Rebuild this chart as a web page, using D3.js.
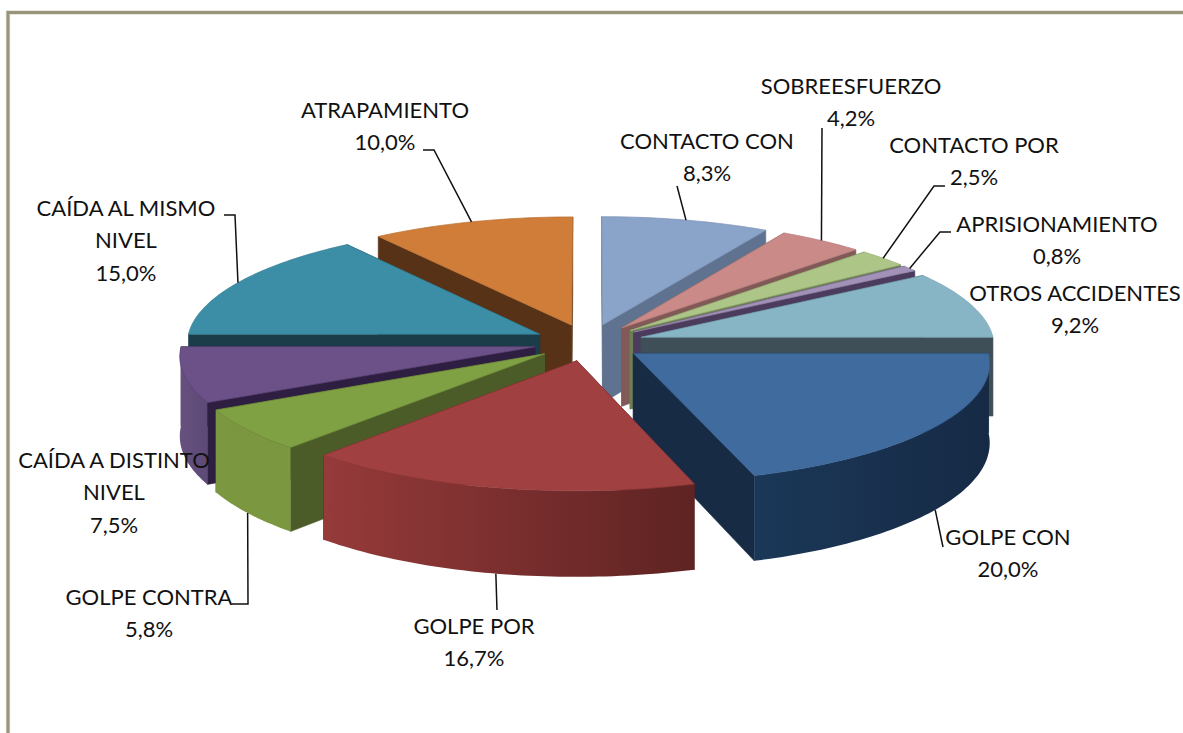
<!DOCTYPE html>
<html><head><meta charset="utf-8">
<script src="https://cdn.jsdelivr.net/npm/d3@7"></script>
<style>html,body{margin:0;padding:0;background:#fff;overflow:hidden}svg{display:block}text{font-family:Lato,sans-serif;font-size:22px;fill:#111}</style>
</head><body><script>
const categories=["CONTACTO CON","SOBREESFUERZO","CONTACTO POR","APRISIONAMIENTO","OTROS ACCIDENTES","GOLPE CON","GOLPE POR","GOLPE CONTRA","CAÍDA A DISTINTO NIVEL","CAÍDA AL MISMO NIVEL","ATRAPAMIENTO"];
const values=[8.3,4.2,2.5,0.8,9.2,20.0,16.7,5.8,7.5,15.0,10.0];
const labelLines=[["CONTACTO CON"],["SOBREESFUERZO"],["CONTACTO POR"],["APRISIONAMIENTO"],["OTROS ACCIDENTES"],["GOLPE CON"],["GOLPE POR"],["GOLPE CONTRA"],["CAÍDA A DISTINTO","NIVEL"],["CAÍDA AL MISMO","NIVEL"],["ATRAPAMIENTO"]];
const topColors=["#8aa3c8","#c98a88","#adc587","#a291b8","#87b5c6","#406b9f","#a04040","#80a044","#6b5187","#3c8ea6","#cf7d38"];
const cutColors=["#5f7390","#815a58","#6f7f55","#4b3c5e","#3f4f57","#172b45","#5e2322","#4b5c28","#2e1f42","#1b3d49","#573216"];
const wallLeft=["#6d83a4","#8f6462","#7f9160","#5a4a70","#4f6670","#1b3858","#963a3a","#7b9840","#67507f","#2c6a7c","#9a5c28"];
const wallRight=["#5f7390","#815a58","#6f7f55","#4b3c5e","#7fa3b0","#162a45","#5e2322","#7b9840","#5d4a75","#1b3d49","#573216"];
// label layout: [x, y of first line], leader elbows after the rim anchor
const labelPos=[[707,141],[851,86],[974,145],[1057,224],[1075,293],[1008,537],[474,626],[149,597],[114,460],[126,208],[385,110]];
const leaderElbows=[[[677,186]],[[822,128]],[[934,186],[945,186]],[[940,232],[951,232]],[],[[943,547]],[[497,610]],[[248,604],[232,604]],[],[[235,215],[224,215]],[[434,150],[423,150]]];
const W=1183,H=733,CX=588.5,CY=342.5,R=353,K=0.335,F=5000,DEPTH=79,EXPLODE=55;
const svg=d3.select("body").append("svg").attr("width",W).attr("height",H);
const defs=svg.append("defs");
const pie=d3.pie().sort(null).value(d=>d)(values);
const project=(X,Y,Z)=>{const s=F/(F-Y);return [CX+X*s,CY+(Y*K+Z)*s];};
const pt=(a,r,e,z)=>{const m=(a.startAngle+a.endAngle)/2;const ox=EXPLODE*Math.sin(m),oy=-EXPLODE*Math.cos(m);
  return t=>project(ox+r*Math.sin(t),oy-r*Math.cos(t),z);};
const line=d3.line();
const arcAngles=(a0,a1)=>{const n=Math.max(2,Math.ceil((a1-a0)/0.02));return d3.range(n+1).map(i=>a0+(a1-a0)*i/n);};
// frame
const frame=[[8,H],[8,12.5],[W,12.5]];
svg.append("path").attr("d",line(frame)).attr("fill","none").attr("stroke","#e2e0d6").attr("stroke-width",4.5);
svg.append("path").attr("d",line(frame)).attr("fill","none").attr("stroke","#98947c").attr("stroke-width",3);
const order=pie.map((d,i)=>({d,i})).sort((p,q)=>d3.descending(Math.cos((p.d.startAngle+p.d.endAngle)/2),Math.cos((q.d.startAngle+q.d.endAngle)/2)));
const g=svg.append("g");
const Q=Math.PI/2;
order.forEach(({d,i})=>{
  const top=pt(d,R,0,0),bot=pt(d,R,0,DEPTH),c=pt(d,0,0,0),cb=pt(d,0,0,DEPTH);
  const ang=arcAngles(d.startAngle,d.endAngle);
  const slice=g.append("g");
  [d.startAngle,d.endAngle].forEach(a=>{
    slice.append("path").attr("d",line([c(a),cb(a),bot(a),top(a)])+"Z").attr("fill",cutColors[i]).attr("stroke",cutColors[i]).attr("stroke-width",.6);
  });
  const a0=Math.max(d.startAngle,Q),a1=Math.min(d.endAngle,3*Q);
  if(a1>a0){
    const fa=arcAngles(a0,a1);
    const wall=fa.map(top).concat(fa.slice().reverse().map(bot));
    const xs=d3.extent(wall,p=>p[0]);
    const gid="w"+i;
    const grad=defs.append("linearGradient").attr("id",gid).attr("gradientUnits","userSpaceOnUse").attr("x1",xs[0]).attr("x2",xs[1]).attr("y1",0).attr("y2",0);
    grad.append("stop").attr("offset",0).attr("stop-color",wallLeft[i]);
    grad.append("stop").attr("offset",1).attr("stop-color",wallRight[i]);
    slice.append("path").attr("d",line(wall)+"Z").attr("fill",`url(#${gid})`);
  }
  slice.append("path").attr("d",line([c(0)].concat(ang.map(top)))+"Z").attr("fill",topColors[i]).attr("stroke",d3.color(topColors[i]).darker(.3)).attr("stroke-width",.7);
});
// leaders and labels
pie.forEach((d,i)=>{
  if(leaderElbows[i].length){
    const m=(d.startAngle+d.endAngle)/2;
    const front=Math.cos(m)<0;
    const a=pt(d,R,0,front?DEPTH:0)(m);
    svg.append("path").attr("d",line([a,...leaderElbows[i]])).attr("fill","none").attr("stroke","#111").attr("stroke-width",1.5);
  }
  const lines=labelLines[i].concat([d3.format(".1f")(values[i]).replace(".",",")+"%"]);
  const t=svg.append("text").attr("text-anchor","middle");
  lines.forEach((s,k)=>t.append("tspan").attr("x",labelPos[i][0]).attr("y",labelPos[i][1]+k*32.3+8).text(s));
});
</script></body></html>
